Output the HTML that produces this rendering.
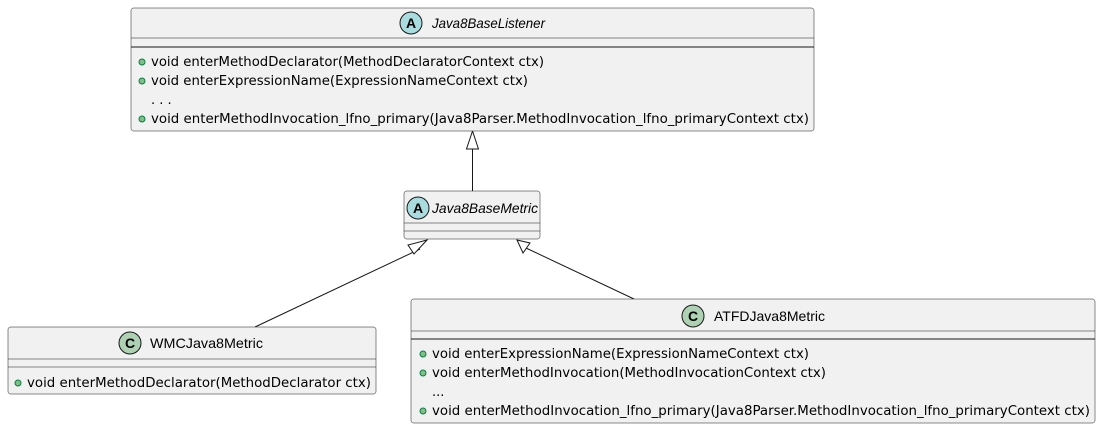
<!DOCTYPE html>
<html><head><style>body{margin:0;background:#fff}svg{display:block}</style></head><body>
<svg width="1101" height="429" viewBox="0 0 1101 429" xmlns="http://www.w3.org/2000/svg" font-family="'DejaVu Sans','Liberation Sans',sans-serif" font-size="13" fill="#000">
<g stroke="#181818" stroke-width="1" fill="none">
<line x1="472.5" y1="149" x2="472.5" y2="191"/>
<line x1="420" y1="249" x2="255" y2="327"/>
<line x1="526" y1="248" x2="634" y2="299"/>
</g>
<g stroke="#181818" fill="#fff">
<polygon points="472.5,131 466.5,149 478.5,149"/>
<polygon points="427,240 408,245 414,254"/>
<polygon points="517,240 523,253 530,243"/>
</g>
<g fill="#f1f1f1" stroke="#181818" stroke-width="0.5">
<rect x="131" y="8" width="683" height="123" rx="2.5"/>
<rect x="404" y="191" width="136" height="48" rx="2.5"/>
<rect x="8" y="327" width="368" height="67" rx="2.5"/>
<rect x="411" y="299" width="684" height="124" rx="2.5"/>
</g>
<g stroke="#181818" stroke-width="0.5">
<line x1="131" y1="38" x2="814" y2="38"/><line x1="131" y1="47" x2="814" y2="47" stroke-width="1"/>
<line x1="404" y1="223" x2="540" y2="223"/><line x1="404" y1="231" x2="540" y2="231"/>
<line x1="8" y1="359" x2="376" y2="359"/><line x1="8" y1="367" x2="376" y2="367"/>
<line x1="411" y1="331" x2="1095" y2="331"/><line x1="411" y1="339" x2="1095" y2="339" stroke-width="1"/>
</g>
<g stroke="#181818" stroke-width="1">
<circle cx="411" cy="23" r="11" fill="#a9dcdf"/>
<circle cx="418" cy="208" r="11" fill="#a9dcdf"/>
<circle cx="130" cy="343" r="11" fill="#add1b2"/>
<circle cx="693" cy="316" r="11" fill="#add1b2"/>
</g>
<g font-weight="bold" font-size="14" text-anchor="middle" font-family="'Liberation Sans',sans-serif">
<text x="411" y="28">A</text><text x="418" y="213">A</text>
<text x="130" y="348">C</text><text x="693" y="321">C</text>
</g>
<g font-family="'Liberation Sans',sans-serif" font-size="14">
<text x="432" y="28" font-style="italic" textLength="113" lengthAdjust="spacingAndGlyphs">Java8BaseListener</text>
<text x="432" y="213" font-style="italic" textLength="106" lengthAdjust="spacingAndGlyphs">Java8BaseMetric</text>
<text x="150" y="348" textLength="113" lengthAdjust="spacingAndGlyphs">WMCJava8Metric</text>
<text x="714" y="321" textLength="111" lengthAdjust="spacingAndGlyphs">ATFDJava8Metric</text>
</g>
<g fill="#84be84" stroke="#038048" stroke-width="1">
<circle cx="142" cy="62" r="3"/><circle cx="142" cy="81" r="3"/><circle cx="142" cy="119" r="3"/>
<circle cx="18" cy="383" r="3"/>
<circle cx="423" cy="354" r="3"/><circle cx="423" cy="373" r="3"/><circle cx="423" cy="411" r="3"/>
</g>
<g>
<text x="151" y="66" textLength="393" lengthAdjust="spacingAndGlyphs">void enterMethodDeclarator(MethodDeclaratorContext ctx)</text>
<text x="151" y="85" textLength="377" lengthAdjust="spacingAndGlyphs">void enterExpressionName(ExpressionNameContext ctx)</text>
<text x="151" y="104">. . .</text>
<text x="151" y="123" textLength="658" lengthAdjust="spacingAndGlyphs">void enterMethodInvocation_lfno_primary(Java8Parser.MethodInvocation_lfno_primaryContext ctx)</text>
<text x="27" y="387" textLength="344" lengthAdjust="spacingAndGlyphs">void enterMethodDeclarator(MethodDeclarator ctx)</text>
<text x="432" y="358" textLength="377" lengthAdjust="spacingAndGlyphs">void enterExpressionName(ExpressionNameContext ctx)</text>
<text x="432" y="377" textLength="394" lengthAdjust="spacingAndGlyphs">void enterMethodInvocation(MethodInvocationContext ctx)</text>
<text x="432" y="396">...</text>
<text x="432" y="415" textLength="658" lengthAdjust="spacingAndGlyphs">void enterMethodInvocation_lfno_primary(Java8Parser.MethodInvocation_lfno_primaryContext ctx)</text>
</g>
</svg>
</body></html>
